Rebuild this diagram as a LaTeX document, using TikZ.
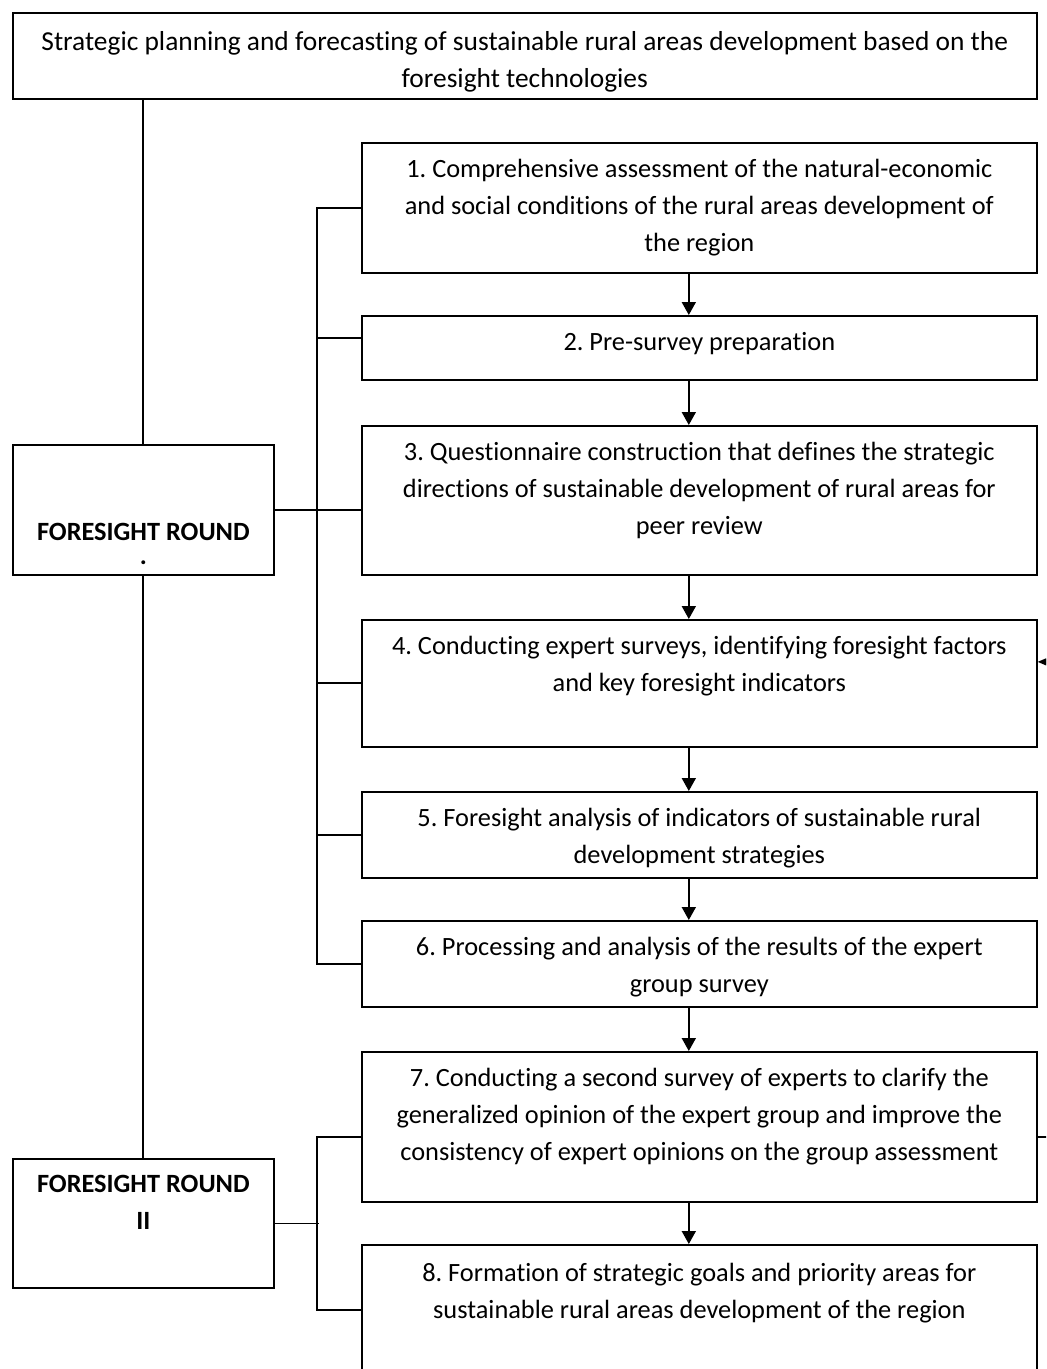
\documentclass[tikz,border=0pt]{standalone}
\usepackage{fontspec}
\setmainfont{Carlito}[Ligatures=NoCommon]
\usetikzlibrary{positioning,arrows.meta}
\tikzset{
  stepbox/.style={draw, line width=1pt, anchor=north west, minimum width=13.5cm, inner sep=0pt},
  roundbox/.style={draw, line width=1pt, anchor=north west, minimum width=5.22cm, inner sep=0pt},
  steptext/.style={align=center, inner sep=0pt, font=\fontsize{15}{21}\selectfont\frenchspacing},
  flow/.style={line width=1pt, -{Triangle[length=0.26cm,width=0.28cm]}},
  link/.style={line width=1pt}
}
\begin{document}
\begin{tikzpicture}[x=0.02cm, y=-0.02cm]
\useasboundingbox (0,0) rectangle (1046,1369);
\clip (0,0) rectangle (1046,1369);
% title and the two rounds
\node[draw, line width=1pt, anchor=north west, minimum width=20.48cm, minimum height=1.72cm] (title) at (12,12) {};
\node[steptext, font=\fontsize{15.6}{21}\selectfont, below=0.38cm of title.north] (ltitle) {Strategic planning and forecasting of sustainable rural areas development based on the\\foresight technologies};
\node[roundbox, minimum height=2.6cm] (fr1) at (12,444) {};
\node[steptext, font=\fontsize{15}{21}\selectfont\bfseries, below=1.58cm of fr1.north] (lfr1) {FORESIGHT ROUND\\[-0.26cm].};
\node[roundbox, minimum height=2.58cm] (fr2) at (12,1158) {};
\node[steptext, font=\fontsize{15}{21}\selectfont\bfseries, below=0.34cm of fr2.north] (lfr2) {FORESIGHT ROUND\\II};
% steps
\node[stepbox, minimum height=2.6cm] (s1) at (361,142) {};
\node[steptext, below=0.34cm of s1.north] (l1) {1. Comprehensive assessment of the natural-economic\\and social conditions of the rural areas development of\\the region};
\node[stepbox, minimum height=1.28cm] (s2) at (361,315) {};
\node[steptext, below=0.34cm of s2.north] (l2) {2. Pre-survey preparation};
\node[stepbox, minimum height=2.98cm] (s3) at (361,425) {};
\node[steptext, below=0.34cm of s3.north] (l3) {3. Questionnaire construction that defines the strategic\\directions of sustainable development of rural areas for\\peer review};
\node[stepbox, minimum height=2.54cm] (s4) at (361,619) {};
\node[steptext, below=0.34cm of s4.north] (l4) {4. Conducting expert surveys, identifying foresight factors\\and key foresight indicators};
\node[stepbox, minimum height=1.72cm] (s5) at (361,791) {};
\node[steptext, below=0.34cm of s5.north] (l5) {5. Foresight analysis of indicators of sustainable rural\\development strategies};
\node[stepbox, minimum height=1.72cm] (s6) at (361,920) {};
\node[steptext, below=0.34cm of s6.north] (l6) {6. Processing and analysis of the results of the expert\\group survey};
\node[stepbox, minimum height=3cm] (s7) at (361,1051) {};
\node[steptext, below=0.34cm of s7.north] (l7) {7. Conducting a second survey of experts to clarify the\\generalized opinion of the expert group and improve the\\consistency of expert opinions on the group assessment};
\node[stepbox, minimum height=2.6cm] (s8) at (361,1244) {};
\node[steptext, below=0.38cm of s8.north] (l8) {8. Formation of strategic goals and priority areas for\\sustainable rural areas development of the region};
% arrows between steps
\foreach \a/\b in {s1/s2,s2/s3,s3/s4,s4/s5,s5/s6,s6/s7,s7/s8}
  \draw[flow] ([xshift=-0.21cm]\a.south) -- ([xshift=-0.21cm]\b.north);
% vertical spine
\draw[link] (fr1.north |- title.south) -- (fr1.north);
\draw[link] (fr1.south) -- (fr2.north);
% bracket of round I
\draw[link] (s1.west) -- ++(-44,0) |- (s6.west);
\draw[link] ([yshift=0.2cm]s2.west) -- ++(-44,0);
\draw[link] (fr1.east) -- (fr1.east -| s3.west);
\draw[link] (s4.west) -- ++(-44,0);
\draw[link] (s5.west) -- ++(-44,0);
% bracket of round II
\draw[link] (fr2.east) -- ++(44,0);
\draw[link] ([yshift=-0.2cm]s7.west) -- ++(-44,0) |- (s8.west);
% return line
\draw[line width=1pt, -{Triangle[length=0.2cm,width=0.16cm]}] ([yshift=-0.2cm]s7.east) -- ++(30,0) |- ([yshift=0.43cm]s4.east);
\end{tikzpicture}
\end{document}
